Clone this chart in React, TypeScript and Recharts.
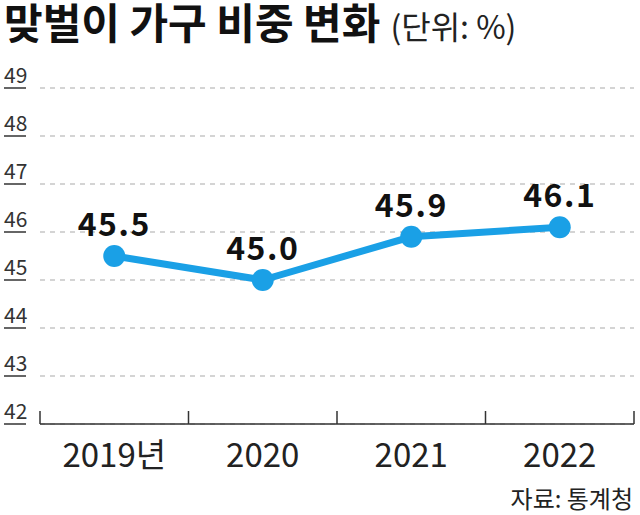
import React from 'react';
import { LineChart, Line, XAxis, YAxis, CartesianGrid, LabelList } from 'recharts';

const categories = ['2019년', '2020', '2021', '2022'];
const values = [45.5, 45.0, 45.9, 46.1];
const yTicks = [42, 43, 44, 45, 46, 47, 48, 49];

const data = categories.map((c, i) => ({ year: c, value: values[i] }));

const FONT = '"Noto Sans CJK KR", "Noto Sans", sans-serif';
const LINE_COLOR = '#1aa0e6';

const YTick = (props: any) => {
  const { y, payload } = props;
  return (
    <g>
      <text x={4} y={y - 5} fontSize={21} fill="#333" fontFamily={FONT}>
        {payload.value}
      </text>
      <line x1={4} x2={26} y1={y} y2={y} stroke="#333" strokeWidth={1.5} />
    </g>
  );
};

const XTick = (props: any) => {
  const { x, y, payload, index, visibleTicksCount } = props;
  const off = payload.offset ?? 74;
  const axisY = y - 8;
  return (
    <g>
      <line x1={x - off} x2={x - off} y1={axisY - 13} y2={axisY} stroke="#333" strokeWidth={1.5} />
      {index === visibleTicksCount - 1 && (
        <line x1={x + off} x2={x + off} y1={axisY - 13} y2={axisY} stroke="#333" strokeWidth={1.5} />
      )}
      <text x={x} y={axisY + 43} textAnchor="middle" fontSize={33} fill="#222" fontFamily={FONT}>
        {payload.value}
      </text>
    </g>
  );
};

const ValueLabel = (props: any) => {
  const { x, y, value } = props;
  return (
    <text x={x} y={y - 20} textAnchor="middle" fontSize={32} fontWeight={700} fill="#111" fontFamily={FONT} letterSpacing={1.5}>
      {Number(value).toFixed(1)}
    </text>
  );
};

export default function App() {
  return (
    <div style={{ position: 'absolute', left: 0, top: 0, width: 640, height: 515, background: '#fff', fontFamily: FONT }}>
      <div style={{ position: 'absolute', left: 4, top: 0, whiteSpace: 'nowrap', color: '#111', lineHeight: '42px' }}>
        <span style={{ fontSize: 42, fontWeight: 700 }}>맞벌이 가구 비중 변화</span>
        <span style={{ fontSize: 32, fontWeight: 400, marginLeft: 10, color: '#222' }}>(단위: %)</span>
      </div>
      <LineChart width={640} height={515} data={data} margin={{ top: 88, right: 6, bottom: 41, left: 0 }}>
        <CartesianGrid horizontal vertical={false} stroke="#aaa" strokeDasharray="5 5" strokeWidth={1.2} />
        <XAxis
          dataKey="year"
          scale="band"
          height={50}
          axisLine={{ stroke: '#333', strokeWidth: 1.5 }}
          tickLine={false}
          tick={<XTick />}
          interval={0}
        />
        <YAxis
          domain={[42, 49]}
          ticks={yTicks}
          width={40}
          axisLine={false}
          tickLine={false}
          tick={<YTick />}
          interval={0}
        />
        <Line
          type="linear"
          dataKey="value"
          stroke={LINE_COLOR}
          strokeWidth={7}
          dot={{ r: 11, fill: LINE_COLOR, stroke: LINE_COLOR, strokeWidth: 0 }}
          isAnimationActive={false}
        >
          <LabelList dataKey="value" content={<ValueLabel />} />
        </Line>
      </LineChart>
      <div style={{ position: 'absolute', right: 7, top: 480, fontSize: 24, color: '#222', whiteSpace: 'nowrap' }}>
        자료: 통계청
      </div>
    </div>
  );
}
